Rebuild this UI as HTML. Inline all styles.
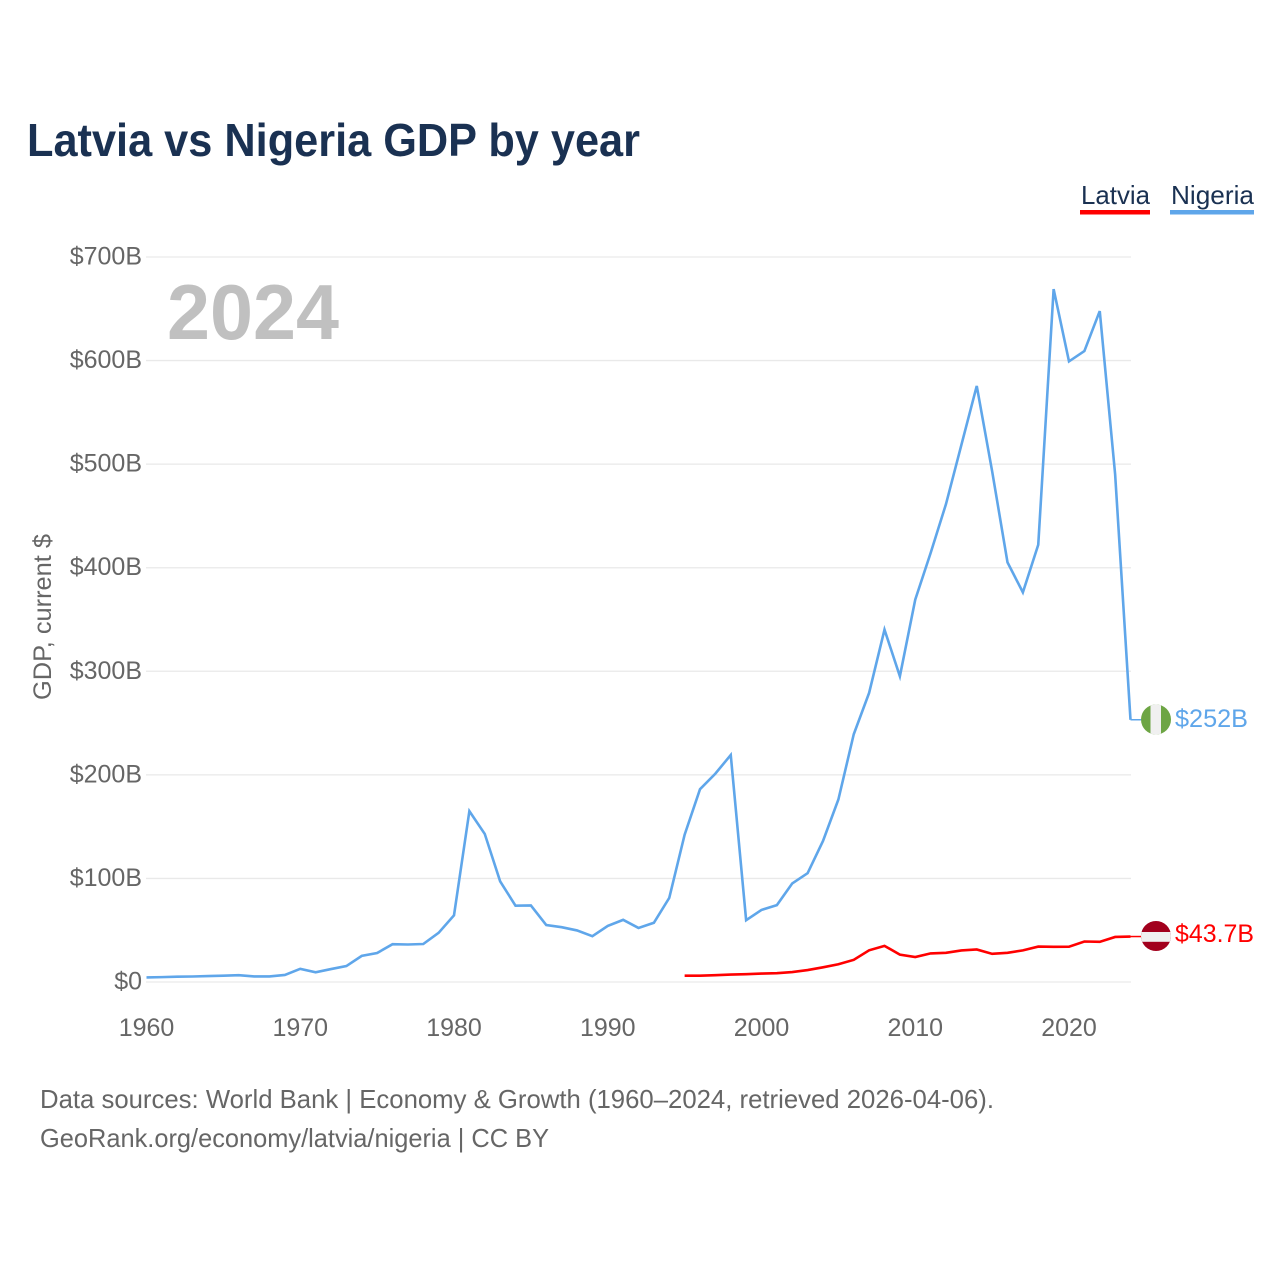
<!DOCTYPE html>
<html>
<head>
<meta charset="utf-8">
<style>
html,body{margin:0;padding:0;background:#fff;}
svg{display:block;font-family:"Liberation Sans",sans-serif;}
</style>
</head>
<body>
<svg id="chart" width="1280" height="1280" viewBox="0 0 1280 1280" xmlns="http://www.w3.org/2000/svg">
  <rect width="1280" height="1280" fill="#ffffff"/>
  <text x="27" y="156" font-size="46" font-weight="700" fill="#1a3152" textLength="613" lengthAdjust="spacingAndGlyphs">Latvia vs Nigeria GDP by year</text>

  <g>
    <g>
      <text x="1081" y="204" font-size="26" fill="#1a3152" textLength="69" lengthAdjust="spacingAndGlyphs">Latvia</text>
      <rect x="1080" y="210" width="70" height="4.5" fill="#ff0000"/>
    </g>
    <g>
      <text x="1171" y="204" font-size="26" fill="#1a3152" textLength="83" lengthAdjust="spacingAndGlyphs">Nigeria</text>
      <rect x="1170" y="210" width="84" height="4.5" fill="#5fa6ea"/>
    </g>
  </g>

  <g id="grid"></g>
  <g id="yticks"></g>
  <g id="xticks"></g>

  <text transform="translate(51,617) rotate(-90)" text-anchor="middle" font-size="25" fill="#666666" textLength="166" lengthAdjust="spacingAndGlyphs">GDP, current $</text>
  <text x="167" y="339" font-size="78" font-weight="700" fill="#c0c0c0" textLength="172" lengthAdjust="spacingAndGlyphs">2024</text>

  <g id="series"></g>

  <g id="flag-nigeria">
    <clipPath id="clip-ng"><circle cx="1156" cy="719.5" r="15"/></clipPath>
    <g clip-path="url(#clip-ng)">
      <rect x="1141" y="704" width="30" height="31" fill="#6da544"/>
      <rect x="1150.5" y="704" width="10.5" height="31" fill="#f0f0f0"/>
    </g>
  </g>
  <g id="flag-latvia">
    <clipPath id="clip-lv"><circle cx="1156" cy="936" r="15"/></clipPath>
    <g clip-path="url(#clip-lv)">
      <rect x="1141" y="920" width="30" height="32" fill="#a2001d"/>
      <rect x="1141" y="932" width="30" height="9.8" fill="#f0f0f0"/>
    </g>
  </g>

  <text id="value-nigeria" x="1175" y="727" font-size="25" fill="#5fa6ea" textLength="73" lengthAdjust="spacingAndGlyphs">$252B</text>
  <text id="value-latvia" x="1175" y="942" font-size="25" fill="#ff0000" textLength="79" lengthAdjust="spacingAndGlyphs">$43.7B</text>

  <text x="40" y="1108" font-size="26" fill="#666666" textLength="954" lengthAdjust="spacingAndGlyphs">Data sources: World Bank | Economy &amp; Growth (1960–2024, retrieved 2026-04-06).</text>
  <text x="40" y="1147" font-size="26" fill="#666666" textLength="509" lengthAdjust="spacingAndGlyphs">GeoRank.org/economy/latvia/nigeria | CC BY</text>
</svg>
<script>
var yTickValues = [0, 100, 200, 300, 400, 500, 600, 700];
var yTickLabels = ["$0", "$100B", "$200B", "$300B", "$400B", "$500B", "$600B", "$700B"];
var xTickYears = [1960, 1970, 1980, 1990, 2000, 2010, 2020];
var nigeriaStartYear = 1960;
var nigeriaValues = [4.4, 4.7, 5.1, 5.3, 5.7, 6.1, 6.6, 5.4, 5.4, 6.8,
  12.7, 9.4, 12.5, 15.4, 25.2, 28, 36.5, 36.2, 36.7, 47.5,
  64.4, 165, 143, 97.2, 73.7, 73.9, 55, 52.9, 49.8, 44.2,
  54.2, 60, 52.2, 57.2, 81.2, 142.2, 186.2, 201.2, 219.2, 59.7,
  69.6, 74.2, 95.2, 105.1, 136.2, 176.2, 239.2, 279.2, 340.2, 295.2,
  369.2, 414.2, 461.5, 518.5, 575.5, 493.2, 405.2, 376.2, 422.2, 669,
  599.2, 609.2, 647.8, 490.2, 253.2];
var latviaStartYear = 1995;
var latviaValues = [6.1, 6.1, 6.6, 7.2, 7.5, 8.1, 8.5, 9.6, 11.5, 14.2,
  17.1, 21.4, 30.6, 34.9, 26.4, 24.1, 27.6, 28.2, 30.5, 31.4,
  27.2, 28.2, 30.5, 34.2, 34, 34.1, 39.1, 38.8, 43.5, 43.9];

var SVG_NS = "http://www.w3.org/2000/svg";
function xScale(year) { return 146.5 + (year - 1960) * (1130.5 - 146.5) / 64; }
function yScale(v) { return 982 - v * (982 - 257) / 700; }

var gridGroup = document.getElementById("grid");
var yGroup = document.getElementById("yticks");
yTickValues.forEach(function (v, i) {
  var line = document.createElementNS(SVG_NS, "line");
  
  
  line.setAttribute("x1", 146);
  line.setAttribute("x2", 1131);
  line.setAttribute("y1", yScale(v));
  line.setAttribute("y2", yScale(v));
  line.setAttribute("stroke", "#e9e9e9");
  line.setAttribute("stroke-width", 1.3);
  gridGroup.appendChild(line);

  var label = document.createElementNS(SVG_NS, "text");
  
  
  label.setAttribute("x", 142);
  label.setAttribute("y", yScale(v) + 7.5);
  label.setAttribute("text-anchor", "end");
  label.setAttribute("font-size", 25);
  label.setAttribute("fill", "#666666");
  label.textContent = yTickLabels[i];
  yGroup.appendChild(label);
});

var xGroup = document.getElementById("xticks");
xTickYears.forEach(function (year) {
  var label = document.createElementNS(SVG_NS, "text");
  
  
  label.setAttribute("x", xScale(year));
  label.setAttribute("y", 1036);
  label.setAttribute("text-anchor", "middle");
  label.setAttribute("font-size", 25);
  label.setAttribute("fill", "#666666");
  label.textContent = String(year);
  xGroup.appendChild(label);
});

function linePoints(startYear, values) {
  return values.map(function (v, i) {
    return xScale(startYear + i).toFixed(2) + "," + yScale(v).toFixed(2);
  });
}

var seriesGroup = document.getElementById("series");

var nigeriaLine = document.createElementNS(SVG_NS, "polyline");


nigeriaLine.setAttribute("points", linePoints(nigeriaStartYear, nigeriaValues).join(" "));
nigeriaLine.setAttribute("fill", "none");
nigeriaLine.setAttribute("stroke", "#5fa6ea");
nigeriaLine.setAttribute("stroke-width", 2.6);
nigeriaLine.setAttribute("stroke-linejoin", "miter");
seriesGroup.appendChild(nigeriaLine);

var latviaLine = document.createElementNS(SVG_NS, "polyline");


latviaLine.setAttribute("points", linePoints(latviaStartYear, latviaValues).join(" "));
latviaLine.setAttribute("fill", "none");
latviaLine.setAttribute("stroke", "#ff0000");
latviaLine.setAttribute("stroke-width", 2.6);
latviaLine.setAttribute("stroke-linejoin", "miter");
seriesGroup.appendChild(latviaLine);

var nigeriaConnector = document.createElementNS(SVG_NS, "line");


nigeriaConnector.setAttribute("x1", xScale(2024));
nigeriaConnector.setAttribute("x2", 1141);
nigeriaConnector.setAttribute("y1", yScale(nigeriaValues[nigeriaValues.length - 1]));
nigeriaConnector.setAttribute("y2", yScale(nigeriaValues[nigeriaValues.length - 1]));
nigeriaConnector.setAttribute("stroke", "#5fa6ea");
nigeriaConnector.setAttribute("stroke-width", 1.5);
seriesGroup.appendChild(nigeriaConnector);

var latviaConnector = document.createElementNS(SVG_NS, "line");


latviaConnector.setAttribute("x1", xScale(2024));
latviaConnector.setAttribute("x2", 1141);
latviaConnector.setAttribute("y1", yScale(latviaValues[latviaValues.length - 1]));
latviaConnector.setAttribute("y2", yScale(latviaValues[latviaValues.length - 1]));
latviaConnector.setAttribute("stroke", "#ff0000");
latviaConnector.setAttribute("stroke-width", 1.5);
seriesGroup.appendChild(latviaConnector);
</script>
</body>
</html>
